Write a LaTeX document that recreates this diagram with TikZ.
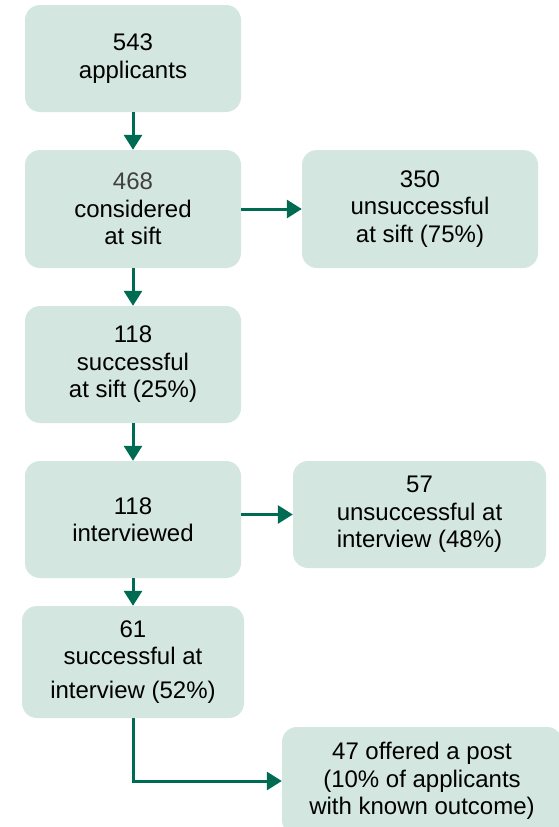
\documentclass[tikz,border=0pt]{standalone}
\usepackage{fontspec}
\setmainfont{Liberation Sans}
\usetikzlibrary{arrows.meta}
\definecolor{boxfill}{HTML}{D3E6E0}
\definecolor{arrgreen}{HTML}{006B53}
\definecolor{greytext}{HTML}{404040}
\begin{document}
\begin{tikzpicture}[x=1pt,y=1pt,
  box/.style={fill=boxfill, draw=none, rounded corners=15pt, align=center,
    font=\fontsize{24}{27.5}\selectfont, text=black, inner sep=0pt},
  arr/.style={draw=arrgreen, line width=3pt, -{Triangle[width=18pt,length=15pt]}}]
\useasboundingbox (0,0) rectangle (558,-827);
\node[box, minimum width=216, minimum height=107] (b1) at (133,-58.5) {543\\applicants};
\node[box, minimum width=216, minimum height=118] (b2) at (133,-209) {{\color{greytext}468}\\considered\\at sift};
\node[box, minimum width=236, minimum height=118] (b3) at (420,-209) {350\\unsuccessful\\at sift (75\%)};
\node[box, minimum width=216, minimum height=117] (b4) at (133,-364.5) {118\\successful\\at sift (25\%)};
\node[box, minimum width=216, minimum height=117] (b5) at (133,-519.5) {118\\interviewed};
\node[box, minimum width=253, minimum height=107] (b6) at (419.5,-514.5) {57\\unsuccessful at\\interview (48\%)};
\node[box, minimum width=222, minimum height=112] (b7) at (133,-662) {61\\successful at\\[6pt]interview (52\%)};
\node[box, minimum width=280, minimum height=108] (b8) at (422,-781) {47 offered a post\\(10\% of applicants\\with known outcome)};
\draw[arr] (b1.south) -- (b2.north);
\draw[arr] (b2.south) -- (b4.north);
\draw[arr] (b4.south) -- (b5.north);
\draw[arr] (b5.south) -- (b7.north);
\draw[arr] (b2.east) -- (b3.west);
\draw[arr] (b5.east |- b6.west) -- (b6.west);
\draw[arr] (b7.south) |- (b8.west);
\end{tikzpicture}
\end{document}
